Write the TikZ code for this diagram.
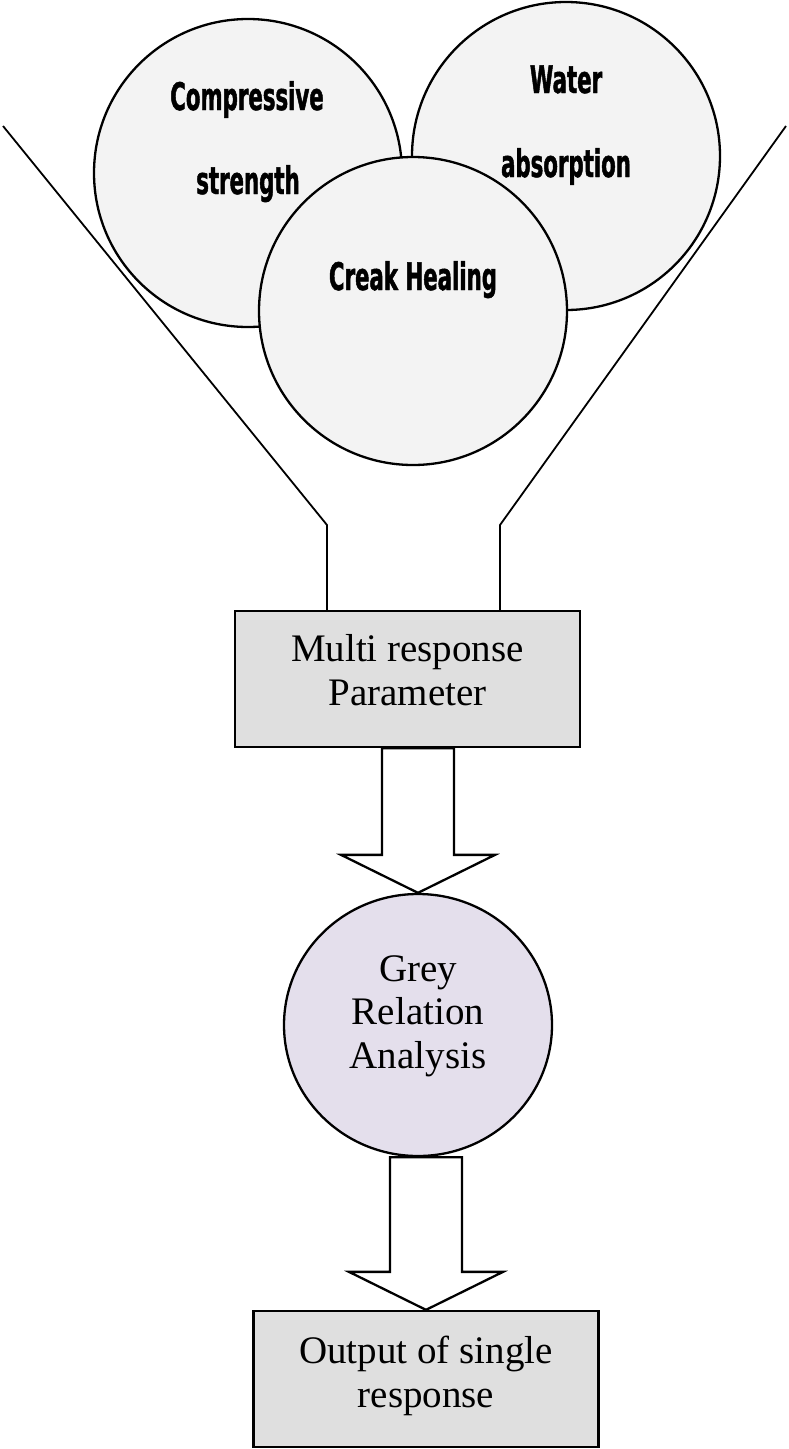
\documentclass[tikz,border=0pt]{standalone}
\usepackage{fontspec}
\setmainfont{Liberation Serif}
\newfontfamily\circfont[FakeStretch=0.56,FakeBold=1.2]{DejaVu Sans}
\usetikzlibrary{shapes.geometric,calc}
\definecolor{discfill}{HTML}{F3F3F3}
\definecolor{boxfill}{HTML}{DFDFDF}
\definecolor{greyrel}{HTML}{E4DFEC}

\newcommand{\blockarr}[2]{\draw[blockarrow] let \p1=(#1), \p2=(#2) in
    (\x2-36pt,\y1) -- (\x2-36pt,\y2+38pt) -- (\x2-77pt,\y2+38pt) -- (\x2,\y2)
    -- (\x2+77pt,\y2+38pt) -- (\x2+36pt,\y2+38pt) -- (\x2+36pt,\y1) -- cycle;}

\begin{document}
\begin{tikzpicture}[x=1pt,y=-1pt,
    disc/.style={circle, draw, line width=2.3pt, fill=discfill, minimum size=308pt, inner sep=0pt},
    disctext/.style={font=\circfont\bfseries\fontsize{38}{40}\selectfont, anchor=base, inner sep=0pt},
    resbox/.style={rectangle, draw, line width=2.3pt, fill=boxfill, minimum width=345pt, minimum height=136pt},
    serif/.style={font=\fontsize{39}{43.5}\selectfont, align=center, anchor=base, inner sep=0pt},
    funnel/.style={line width=1.8pt},
    blockarrow/.style={draw, line width=2.3pt, fill=white, line join=miter}]
        \useasboundingbox (0,0) rectangle (788,1449);

        \node[disc] (comp) at (248,173) {};
        \node[disc] (water) at (566,156) {};
        \node[disc] (creak) at (413,311) {};
        \node[disctext] (comptxt) at (247,110) {Compressive};
        \node[disctext] (strtxt) at (248,194) {strength};
        \node[disctext] (watertxt) at (566,93) {Water};
        \node[disctext] (abstxt) at (566,177) {absorption};
        \node[disctext] (creaktxt) at (413,290) {Creak Healing};

        \node[resbox] (mrp) at (407.5,679) {};
        \node[serif] (mrptxt) at (407.5,705) {Multi response\\Parameter};

        \node[ellipse, draw, line width=2.3pt, fill=greyrel, minimum width=268pt, minimum height=262pt, inner sep=0pt] (gra) at (418,1025) {};
        \node[serif] (gratxt) at (418,1068) {Grey\\Relation\\Analysis};

        \node[resbox] (out) at (426,1379) {};
        \node[serif] (outtxt) at (426,1407) {Output of single\\response};

        \coordinate (fl) at (327,525);
        \coordinate (fr) at (500,525);
        \draw[funnel] (3,126) -- (fl) -- (fl |- mrp.north);
        \draw[funnel] (786,126) -- (fr) -- (fr |- mrp.north);

        \blockarr{mrp.south}{gra.north}
        \blockarr{gra.south}{out.north}
    \end{tikzpicture}
\end{document}
